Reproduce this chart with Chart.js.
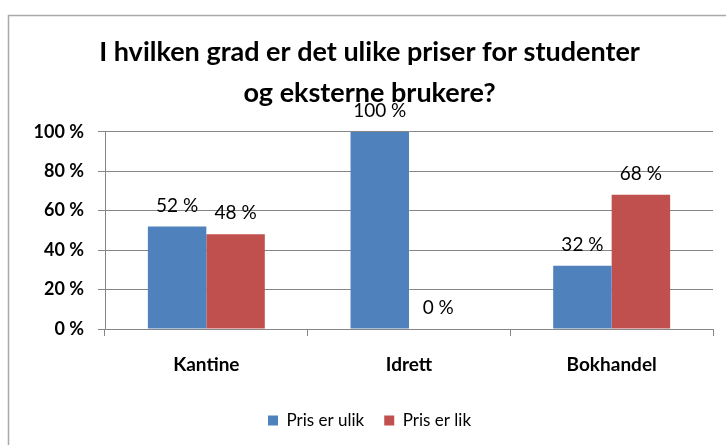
<!DOCTYPE html>
<html>
<head>
<meta charset="utf-8">
<script src="https://cdn.jsdelivr.net/npm/chart.js@4/dist/chart.umd.min.js"></script>
<style>
html,body{margin:0;padding:0;background:#fff;}
#wrap{width:726px;height:445px;position:relative;}
</style>
</head>
<body>
<div id="wrap"><canvas id="c" width="726" height="445"></canvas></div>
<script>
const categories = ["Kantine", "Idrett", "Bokhandel"];
const seriesNames = ["Pris er ulik", "Pris er lik"];
const prisUlik = [52, 100, 32];
const prisLik = [48, 0, 68];
const yTicks = [0, 20, 40, 60, 80, 100];
const titleLines = ["I hvilken grad er det ulike priser for studenter", "og eksterne brukere?"];

const FONT = "Lato, 'Open Sans', sans-serif";

const borderPlugin = {
  id: 'frame',
  beforeDraw(chart) {
    const ctx = chart.ctx;
    ctx.save();
    ctx.strokeStyle = '#a9a9a9';
    ctx.lineWidth = 1.5;
    ctx.beginPath();
    ctx.moveTo(8.5, 445);
    ctx.lineTo(8.5, 15.5);
    ctx.lineTo(726, 15.5);
    ctx.stroke();
    ctx.restore();
  }
};

const labelPlugin = {
  id: 'valueLabels',
  afterDatasetsDraw(chart) {
    const ctx = chart.ctx;
    ctx.save();
    ctx.font = "19px " + FONT;
    ctx.fillStyle = '#000';
    ctx.textAlign = 'center';
    ctx.textBaseline = 'middle';
    chart.data.datasets.forEach((ds, i) => {
      const meta = chart.getDatasetMeta(i);
      meta.data.forEach((el, j) => {
        ctx.fillText(ds.data[j] + ' %', el.x, el.y - 21);
      });
    });
    ctx.restore();
  }
};

new Chart(document.getElementById('c'), {
  type: 'bar',
  data: {
    labels: categories,
    datasets: [
      { label: seriesNames[0], data: prisUlik, backgroundColor: '#4F81BD', borderWidth: 0 },
      { label: seriesNames[1], data: prisLik, backgroundColor: '#C0504D', borderWidth: 0 }
    ]
  },
  options: {
    responsive: false,
    animation: false,
    layout: { padding: { left: 26, right: 13, top: 0, bottom: 6 } },
    categoryPercentage: 0.577,
    barPercentage: 1,
    plugins: {
      title: {
        display: true,
        text: titleLines,
        color: '#000',
        font: { family: FONT, size: 27, weight: 'bold', lineHeight: 1.55 },
        padding: { top: 31, bottom: 17 }
      },
      legend: {
        position: 'bottom',
        labels: {
          boxWidth: 10, boxHeight: 10,
          color: '#000',
          font: { family: FONT, size: 17 },
          padding: 20
        }
      },
      tooltip: { enabled: false }
    },
    scales: {
      x: {
        grid: { display: true, drawOnChartArea: false, color: '#868686', tickLength: 7, offset: true },
        border: { color: '#868686' },
        ticks: { color: '#000', font: { family: FONT, size: 19, weight: 'bold' }, padding: 17 },
        afterFit(scale) { scale.height = 63; }
      },
      y: {
        min: 0, max: 100,
        afterBuildTicks(scale) { scale.ticks = yTicks.map(v => ({ value: v })); },
        grid: { color: '#868686', tickLength: 7 },
        border: { color: '#868686' },
        ticks: { color: '#000', font: { family: FONT, size: 18, weight: 'bold' }, padding: 14, callback: v => v + ' %' },
        afterFit(scale) { scale.width = 79; }
      }
    }
  },
  plugins: [borderPlugin, labelPlugin]
});
</script>
</body>
</html>
